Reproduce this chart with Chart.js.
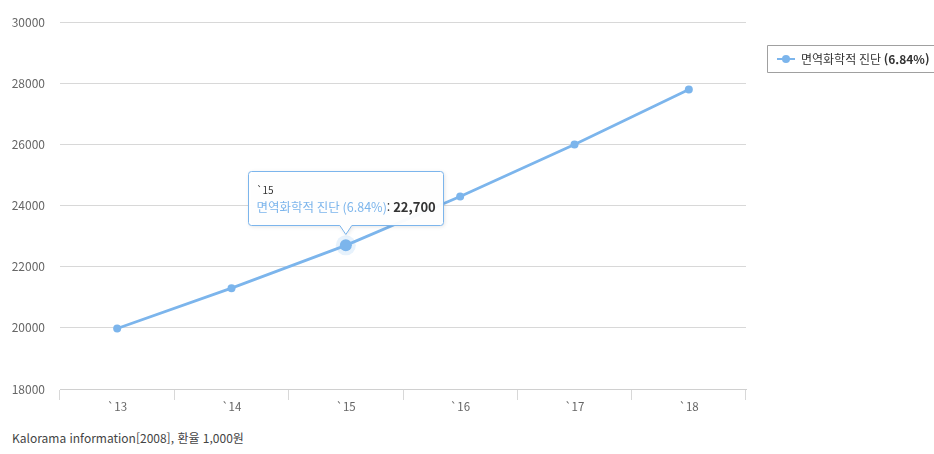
<!DOCTYPE html>
<html lang="ko">
<head>
<meta charset="utf-8">
<script src="https://cdn.jsdelivr.net/npm/chart.js@4.4.1/dist/chart.umd.min.js"></script>
<style>
  html, body { margin: 0; padding: 0; background: #fff; overflow: hidden; }
  #wrap { position: relative; width: 934px; height: 420px; }
  #source {
    position: absolute; left: 12px; top: 429px;
    font: 12px "Noto Sans CJK KR", sans-serif; color: #444;
  }
</style>
</head>
<body>
<div id="wrap"><canvas id="marketChart" width="934" height="420"></canvas></div>
<div id="source">Kalorama information[2008], 환율 1,000원</div>
<script>
// market size by year
const years = ["`13", "`14", "`15", "`16", "`17", "`18"];
const marketSize = [19980, 21300, 22700, 24300, 26000, 27800];
const seriesName = "면역화학적 진단";
const seriesRate = "(6.84%)";
const yMin = 18000;
const yMax = 30000;
const yStep = 2000;
const hoverIndex = 2; // point shown with tooltip

const BLUE = "#7cb5ec";
const FONT = '"Noto Sans CJK KR", "Noto Sans", sans-serif';

// hover halo, tooltip and the right-hand legend box
const overlay = {
  id: "overlay",
  beforeDatasetsDraw(chart) {
    const pt = chart.getDatasetMeta(0).data[hoverIndex];
    const { x, y } = pt.getProps(["x", "y"], true);
    const c = chart.ctx;
    c.save();
    c.fillStyle = "rgba(124,181,236,0.18)";
    c.beginPath();
    c.arc(x, y, 10, 0, Math.PI * 2);
    c.fill();
    c.restore();
  },
  afterDraw(chart) {
    const c = chart.ctx;
    const pt = chart.getDatasetMeta(0).data[hoverIndex];
    const { x, y } = pt.getProps(["x", "y"], true);

    // tooltip box with pointer
    const w = 195, h = 54, r = 3;
    const left = Math.round(x - w / 2) + 0.5;
    const bottom = Math.round(y - 20) + 0.5;
    const top = bottom - h;
    const right = left + w;
    c.save();
    c.shadowColor = "rgba(0,0,0,0.12)";
    c.shadowBlur = 4;
    c.shadowOffsetX = 1;
    c.shadowOffsetY = 1;
    c.beginPath();
    c.moveTo(left + r, top);
    c.lineTo(right - r, top);
    c.arcTo(right, top, right, top + r, r);
    c.lineTo(right, bottom - r);
    c.arcTo(right, bottom, right - r, bottom, r);
    c.lineTo(x + 6, bottom);
    c.lineTo(x, bottom + 9);
    c.lineTo(x - 6, bottom);
    c.lineTo(left + r, bottom);
    c.arcTo(left, bottom, left, bottom - r, r);
    c.lineTo(left, top + r);
    c.arcTo(left, top, left + r, top, r);
    c.closePath();
    c.fillStyle = "rgba(255,255,255,0.96)";
    c.fill();
    c.shadowColor = "transparent";
    c.strokeStyle = BLUE;
    c.lineWidth = 1;
    c.stroke();

    c.textBaseline = "middle";
    c.textAlign = "left";
    c.fillStyle = "#333";
    c.font = "10px " + FONT;
    c.fillText(years[hoverIndex], left + 8, top + 19);

    let tx = left + 8;
    const ty = top + 36;
    c.font = "12.5px " + FONT;
    c.fillStyle = BLUE;
    const label = seriesName + " " + seriesRate;
    c.fillText(label, tx, ty);
    tx += c.measureText(label).width;
    c.fillStyle = "#333";
    c.fillText(": ", tx, ty);
    tx += c.measureText(": ").width;
    c.font = "bold 13px " + FONT;
    c.fillText(marketSize[hoverIndex].toLocaleString("en-US"), tx, ty);
    c.restore();

    // legend box
    c.save();
    const lx = 767.5, ly = 45.5, lh = 27;
    c.strokeStyle = "#a0a0a0";
    c.lineWidth = 1;
    c.fillStyle = "#fff";
    c.beginPath();
    c.rect(lx, ly, 200, lh);
    c.fill();
    c.stroke();
    const my = ly + lh / 2;
    c.strokeStyle = BLUE;
    c.lineWidth = 2;
    c.beginPath();
    c.moveTo(777, my);
    c.lineTo(795, my);
    c.stroke();
    c.fillStyle = BLUE;
    c.beginPath();
    c.arc(786, my, 4, 0, Math.PI * 2);
    c.fill();
    c.fillStyle = "#333";
    c.textBaseline = "middle";
    c.font = "12px " + FONT;
    c.fillText(seriesName + " ", 801, my);
    const nx = 801 + c.measureText(seriesName + " ").width;
    c.font = "bold 12px " + FONT;
    c.fillText(seriesRate, nx, my);
    c.restore();
  }
};

const ctx = document.getElementById("marketChart").getContext("2d");

const myChart = new Chart(ctx, {
  type: "line",
  data: {
    labels: years,
    datasets: [
      {
        label: seriesName + " " + seriesRate,
        data: marketSize,
        borderColor: BLUE,
        backgroundColor: BLUE,
        borderWidth: 2.8,
        pointRadius: (c) => (c.dataIndex === hoverIndex ? 6 : 4),
        pointBorderWidth: 0,
        pointBackgroundColor: BLUE,
        tension: 0,
        fill: false,
      },
    ],
  },
  options: {
    responsive: false,
    animation: false,
    devicePixelRatio: 1,
    layout: { padding: { top: 21, right: 188, left: 0, bottom: 0 } },
    plugins: {
      legend: { display: false },
      tooltip: { enabled: false },
    },
    events: [],
    scales: {
      x: {
        offset: true,
        grid: {
          offset: true,
          drawOnChartArea: false,
          drawTicks: true,
          tickLength: 11,
          color: "#d8d8d8",
        },
        border: { display: true, color: "#d0d0d0" },
        ticks: {
          color: "#666",
          padding: 0,
          font: { family: FONT, size: 11.5 },
        },
        afterFit(scale) {
          scale.height = 31;
        },
      },
      y: {
        min: yMin,
        max: yMax,
        ticks: {
          stepSize: yStep,
          color: "#666",
          padding: 15,
          font: { family: FONT, size: 12 },
          callback: (v) => String(v),
        },
        grid: { color: "#d8d8d8", drawTicks: false },
        border: { display: false },
        afterFit(scale) {
          scale.width = 60;
        },
      },
    },
  },
  plugins: [overlay],
});
</script>
</body>
</html>
